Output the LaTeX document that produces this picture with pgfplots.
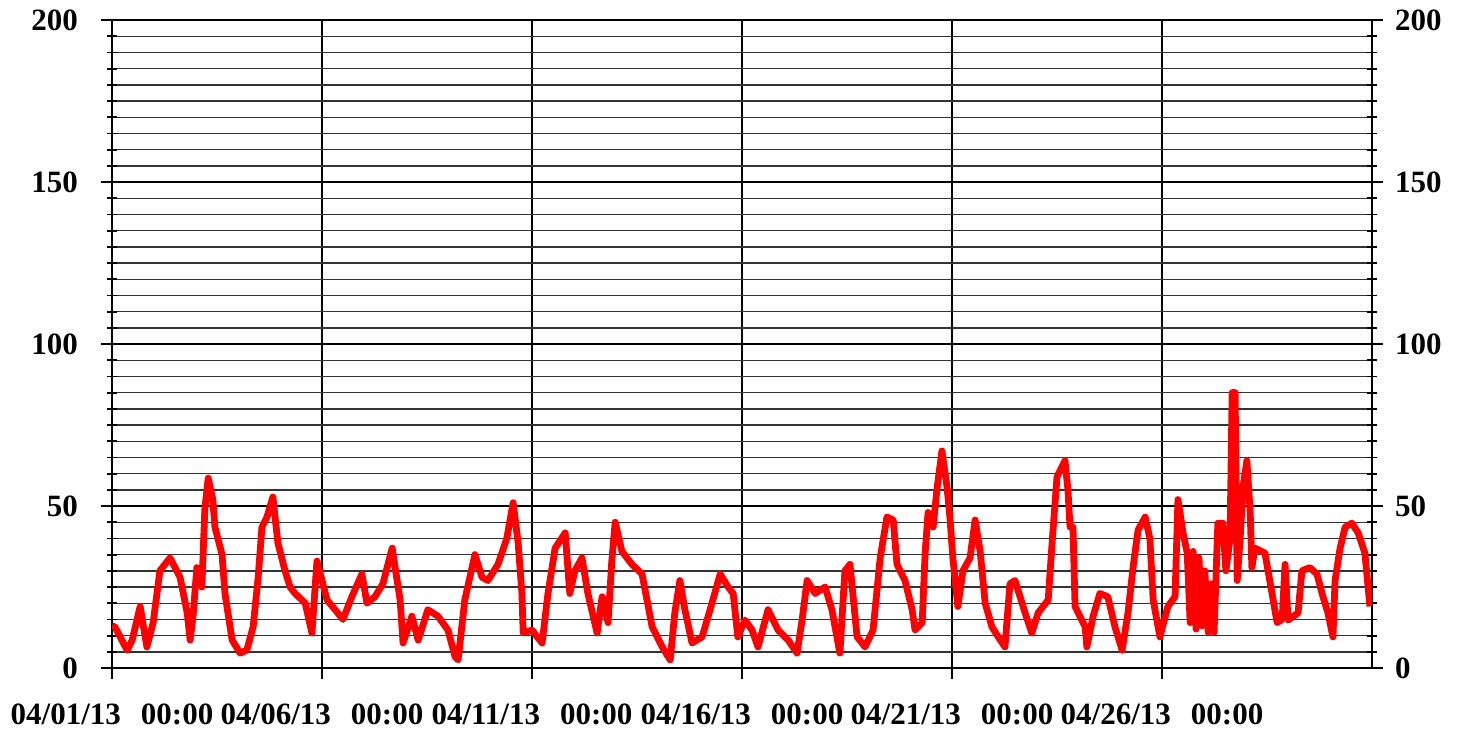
\documentclass[border=0pt]{standalone}
\usepackage{pgfplots}
\usepackage{pgfplotstable}
\pgfplotsset{compat=1.18}
\usetikzlibrary{calc}
\usepackage{fontspec}
\setmainfont{Liberation Serif}
\pgfplotstableread{
d v
0.00 13
0.07 12.7
0.36 5.5
0.48 8.6
0.67 19
0.83 6.5
0.98 14
1.14 30
1.38 34
1.62 28
1.79 17
1.86 8.6
1.93 16
2.02 31
2.14 25
2.21 49
2.29 58.6
2.40 52
2.45 43.5
2.62 35
2.69 23
2.86 8.6
3.05 4.6
3.21 5.5
3.36 12.7
3.48 28
3.57 43.5
3.69 46.6
3.83 52.8
3.95 38.6
4.12 30
4.24 25
4.36 23
4.60 20
4.76 10.8
4.88 33
5.00 27
5.12 21
5.31 18
5.50 15
5.71 22
5.95 29
6.07 20
6.26 22
6.45 26
6.67 37
6.86 21
6.93 7.7
7.14 16
7.29 8.6
7.52 18
7.76 16
8.00 11.7
8.17 3.4
8.24 2.5
8.40 21
8.64 35
8.81 28
8.95 27
9.19 32
9.40 40
9.55 51
9.67 38.6
9.76 23
9.79 10.8
10.00 11.7
10.24 7.7
10.38 23
10.55 37
10.79 41.7
10.90 23
11.02 30
11.19 34
11.33 23
11.55 10.8
11.67 22
11.81 14
11.90 33
11.98 45
12.14 36
12.38 32
12.62 29
12.86 12.7
13.10 6.5
13.29 2.5
13.40 17
13.52 27
13.64 18
13.81 7.7
14.05 9.6
14.24 18
14.48 29
14.67 25
14.79 23
14.90 9.6
15.07 14.8
15.24 11.7
15.38 6.5
15.62 18
15.86 11.7
16.10 8.6
16.31 4.6
16.43 14.8
16.55 27
16.74 23
16.98 25
17.14 18
17.33 4.6
17.45 30
17.57 32
17.74 9.6
17.93 6.5
18.12 11.7
18.29 34
18.45 46.6
18.60 45.7
18.69 32
18.88 27
19.05 18
19.12 11.7
19.29 14
19.36 35.5
19.43 48
19.55 43.5
19.64 55
19.76 67
19.88 56
19.95 46.6
20.02 34
20.14 19
20.26 30
20.43 34
20.55 45.7
20.67 36
20.79 20
20.95 12.7
21.10 9.6
21.26 6.5
21.38 26
21.50 27
21.74 17
21.90 10.8
22.05 17
22.29 21
22.40 41.7
22.50 59
22.69 64
22.76 55
22.81 43.5
22.88 43.5
22.93 19
23.17 12.7
23.21 6.5
23.36 16
23.52 23
23.71 22
23.88 12.7
24.05 5.5
24.19 17
24.31 31
24.43 42.6
24.60 46.6
24.71 40
24.79 21
24.95 9.6
25.14 19
25.31 22
25.38 52
25.50 41.7
25.60 35.5
25.67 14
25.74 36
25.81 12
25.88 34
25.95 13
26.02 30
26.10 11
26.17 26
26.24 11
26.33 44.7
26.45 44.7
26.52 30
26.62 40
26.67 85
26.74 85
26.79 27
26.86 40
26.93 56
27.02 64
27.10 48
27.14 31
27.21 37
27.45 35.5
27.62 23
27.74 14
27.86 15
27.93 32
28.00 14.8
28.24 17
28.33 30
28.52 31
28.69 29
28.81 23
28.95 17
29.07 9.6
29.12 27
29.24 37
29.36 43.5
29.52 44.7
29.67 41.7
29.83 35.5
29.95 19
}\datatable
\newcommand{\lblfont}{\fontsize{15.5}{18}\selectfont\bfseries}
\begin{document}
\begin{tikzpicture}
\begin{axis}[name=ax, scale only axis, width=630pt, height=324pt,
  xmin=0, xmax=30, ymin=0, ymax=200,
  axis line style={line width=1pt, black},
  xtick={0,5,10,15,20,25},
  xticklabels={04/01/13\hspace{10pt}00:00,04/06/13\hspace{10pt}00:00,04/11/13\hspace{10pt}00:00,04/16/13\hspace{10pt}00:00,04/21/13\hspace{10pt}00:00,04/26/13\hspace{10pt}00:00},
  xtick pos=lower, ytick pos=both, yticklabel pos=left,
  tick align=center, major tick length=11pt, minor tick length=5pt,
  every tick/.style={black, line width=0.9pt},
  ytick={0,50,100,150,200}, minor ytick={5,10,...,195},
  xmajorgrids, ymajorgrids, yminorgrids,
  major grid style={black, line width=0.9pt},
  minor grid style={black!80, line width=0.7pt},
  /pgf/number format/assume math mode=true,
  tick label style={font=\lblfont},
  x tick label style={yshift=-9pt},
  y tick label style={xshift=-8pt},
]
\addplot[red, line width=3.4pt, line join=round] table[x=d, y=v] {\datatable};
\end{axis}
\begin{axis}[scale only axis, width=630pt, height=324pt,
  xmin=0, xmax=30, ymin=0, ymax=200,
  hide x axis, axis y line*=right,
  y axis line style={draw=none},
  ytick={0,50,100,150,200}, ytick style={draw=none},
  /pgf/number format/assume math mode=true,
  y tick label style={font=\lblfont, xshift=8pt},
]
\addplot[draw=none] coordinates {(0,0)};
\end{axis}
\pgfresetboundingbox
\path[use as bounding box] ($(ax.south west)+(-56pt,-31pt)$) rectangle ($(ax.north east)+(44.5pt,10pt)$);
\end{tikzpicture}
\end{document}
